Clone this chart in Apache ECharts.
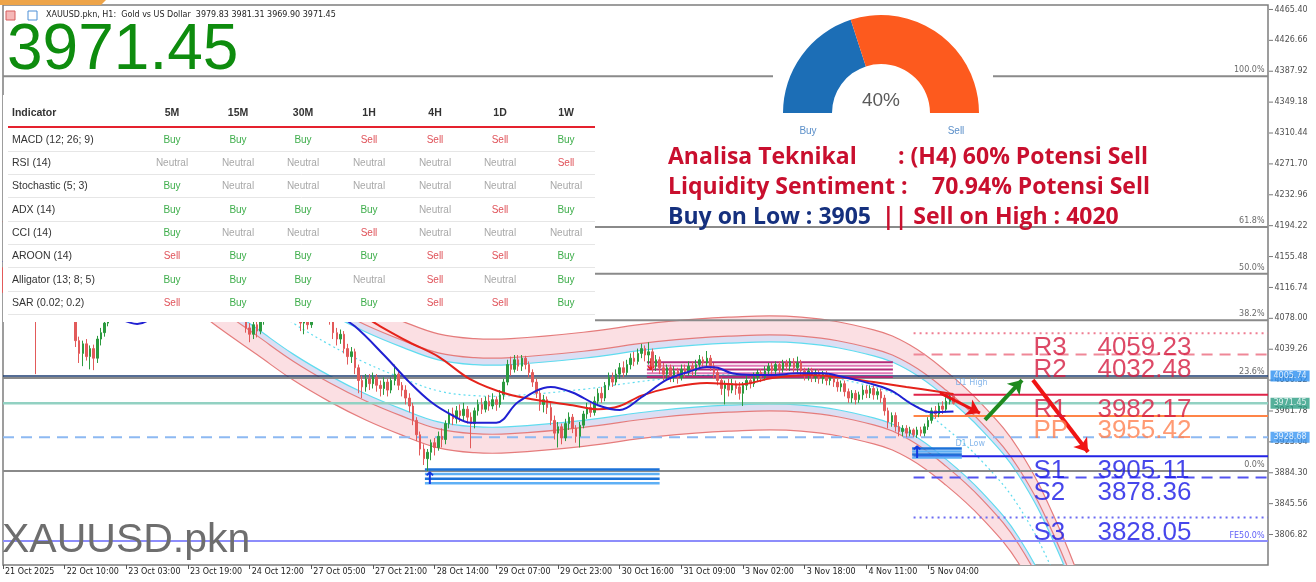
<!DOCTYPE html>
<html lang="id">
<head>
<meta charset="utf-8">
<title>XAUUSD.pkn H1</title>
<script src="https://cdn.jsdelivr.net/npm/echarts@6/dist/echarts.min.js"></script>
<style>
  html, body { margin: 0; padding: 0; background: #ffffff; }
  #chart { width: 1316px; height: 582px; }
</style>
</head>
<body>
<div id="chart"></div>
<script>
// ---------- values ----------
// bottom axis: one label every 17 H1 bars
const timeLabels = ['21 Oct 2025', '22 Oct 10:00', '23 Oct 03:00', '23 Oct 19:00', '24 Oct 12:00', '27 Oct 05:00',
  '27 Oct 21:00', '28 Oct 14:00', '29 Oct 07:00', '29 Oct 23:00', '30 Oct 16:00', '31 Oct 09:00',
  '3 Nov 02:00', '3 Nov 18:00', '4 Nov 11:00', '5 Nov 04:00'];
const labelStep = 17;
const priceTicks = [4465.40, 4426.66, 4387.92, 4349.18, 4310.44, 4271.70, 4232.96, 4194.22, 4155.48,
  4116.74, 4078.00, 4039.26, 4000.52, 3961.78, 3923.04, 3884.30, 3845.56, 3806.82];

// H1 candles: [open, close, low, high]
const candles = [
  [4128,4118,4110,4142],[4118,4125,4108,4132],[4125,4112,4104,4130],[4112,4120,4100,4126],[4120,4108,4098,4124],
  [4108,4115,4096,4121],[4115,4102,4094,4119],[4102,4110,4092,4114],[4110,4095,4088,4113],[4095,4088,4008,4101],
  [4088,4098,4082,4104],[4098,4108,4090,4112],[4108,4100,4093,4116],[4100,4112,4096,4118],[4112,4105,4098,4120],
  [4105,4098,4090,4110],[4098,4092,4085,4104],[4092,4100,4086,4106],[4100,4090,4083,4104],[4090,4082,4078,4095],
  [4080,4050,4042,4084],[4050,4034,4022,4055],[4034,4046,4018,4050],[4046,4030,4025,4052],[4030,4040,4014,4044],
  [4040,4028,4013,4045],[4028,4052,4022,4056],[4052,4060,4044,4066],[4060,4072,4055,4078],[4072,4085,4068,4090],
  [4085,4094,4080,4098],[4094,4088,4082,4100],[4088,4100,4084,4105],[4100,4110,4096,4115],[4110,4104,4098,4116],
  [4104,4115,4100,4120],[4115,4122,4110,4128],[4122,4116,4108,4126],[4116,4126,4112,4132],[4126,4134,4120,4140],
  [4134,4128,4120,4138],[4128,4138,4124,4144],[4138,4146,4132,4152],[4146,4140,4134,4150],[4140,4150,4136,4156],
  [4150,4158,4144,4164],[4158,4150,4142,4162],[4150,4142,4136,4155],[4142,4148,4136,4154],[4148,4140,4132,4152],
  [4140,4132,4126,4146],[4132,4138,4126,4143],[4138,4128,4120,4142],[4128,4120,4114,4134],[4120,4126,4114,4131],
  [4126,4134,4120,4140],[4134,4126,4118,4138],[4126,4118,4110,4130],[4118,4110,4102,4122],[4110,4116,4104,4121],
  [4116,4106,4098,4120],[4106,4098,4092,4112],[4098,4104,4090,4109],[4104,4096,4088,4108],[4096,4090,4084,4100],
  [4090,4084,4078,4096],[4084,4088,4078,4094],
  [4088,4066,4060,4092],[4066,4058,4048,4072],[4058,4070,4052,4076],[4070,4062,4054,4078],[4062,4076,4058,4082],
  [4076,4088,4070,4092],[4088,4096,4082,4100],
  [4096,4102,4090,4108],[4102,4110,4096,4116],[4110,4104,4098,4114],[4104,4112,4100,4118],[4112,4108,4102,4116],
  [4108,4112,4104,4118],
  [4096,4088,4080,4100],[4088,4080,4074,4092],[4080,4072,4062,4084],[4072,4078,4058,4082],[4078,4070,4064,4083],
  [4070,4080,4066,4086],[4080,4088,4076,4094],[4088,4084,4078,4095],[4084,4090,4080,4096],[4090,4082,4076,4094],
  [4082,4076,4070,4088],
  [4076,4060,4052,4080],[4060,4052,4044,4066],[4052,4058,4046,4064],[4058,4040,4034,4062],[4040,4030,4020,4046],
  [4030,4036,4022,4042],[4036,4016,4008,4040],
  [4016,4000,3984,4020],[4000,3992,3978,4006],[3992,4002,3986,4008],[4002,3996,3988,4008],[3996,4004,3990,4010],
  [4004,3994,3986,4008],[3994,3990,3980,4000],
  [3990,3998,3982,4004],[3998,3988,3980,4002],[3988,4000,3984,4004],[4000,4008,3994,4020],[4008,3994,3988,4012],
  [3994,3988,3980,3998],[3988,3978,3970,3994],[3978,3968,3960,3984],
  [3968,3950,3944,3972],[3950,3932,3924,3954],[3932,3914,3906,3936],[3914,3902,3894,3920],[3902,3910,3886.5,3914],
  [3910,3922,3900,3926],
  [3922,3916,3906,3928],[3916,3930,3912,3936],[3930,3926,3916,3940],[3926,3946,3920,3950],[3946,3958,3940,3964],
  [3958,3952,3944,3966],[3952,3962,3946,3968],[3962,3956,3948,3970],[3956,3964,3950,3972],[3964,3954,3946,3968],
  [3954,3946,3915,3960],
  [3946,3962,3940,3966],[3962,3970,3956,3976],[3970,3964,3958,3978],[3964,3974,3960,3980],[3974,3968,3962,3982],
  [3968,3976,3964,3984],[3976,3970,3962,3980],[3970,3982,3966,3988],
  [3982,3998,3976,4002],[3998,4020,3994,4026],[4020,4014,4006,4030],[4014,4026,4010,4032],[4026,4018,4012,4032],
  [4018,4028,4012,4032],[4028,4020,4014,4031],[4020,4010,4004,4024],
  [4010,3998,3992,4014],[3998,3984,3978,4002],[3984,3970,3962,3988],[3970,3976,3960,3982],[3976,3966,3958,3980],
  [3966,3950,3944,3972],[3950,3934,3926,3956],[3934,3942,3916,3948],[3942,3928,3920,3946],[3928,3946,3924,3952],
  [3946,3954,3938,3960],[3954,3940,3934,3958],[3940,3930,3922,3944],[3930,3944,3916,3948],
  [3944,3958,3940,3962],[3958,3966,3952,3972],[3966,3960,3954,3974],[3960,3974,3956,3980],[3974,3984,3968,3990],
  [3984,3978,3972,3992],
  [3978,3994,3974,3998],[3994,4004,3988,4010],[4004,3998,3992,4010],[3998,4008,3994,4014],[4008,4016,4002,4022],
  [4016,4010,4004,4024],[4010,4020,4006,4026],
  [4020,4028,4014,4034],[4028,4024,4018,4036],[4024,4034,4020,4040],[4034,4040,4028,4046],[4040,4032,4024,4044],
  [4032,4036,4020,4048],[4036,4018,4010,4040],[4018,4026,4012,4032],[4026,4016,4008,4030],
  [4016,4008,4000,4022],[4008,4016,4002,4020],[4016,4006,3998,4020],[4006,4012,3998,4018],[4012,4004,3996,4016],
  [4004,4014,4000,4020],[4014,4010,4004,4020],[4010,4018,4006,4024],[4018,4012,4006,4024],[4012,4020,4006,4026],
  [4020,4026,4014,4032],
  [4026,4022,4016,4030],[4022,4028,4016,4037],[4028,4018,4012,4032],[4018,4010,4002,4022],[4010,4000,3994,4014],
  [4000,3990,3982,4004],[3990,3996,3970,4000],[3996,3988,3980,4002],[3988,3996,3984,4002],[3996,3990,3982,4000],
  [3992,3984,3976,3998],[3984,3994,3968,3998],
  [3994,4000,3988,4006],[4000,3996,3990,4004],[3996,4004,3992,4010],[4004,4010,3998,4014],[4010,4004,3998,4014],
  [4004,4012,4000,4018],[4012,4018,4006,4022],[4018,4012,4006,4022],[4012,4020,4008,4024],[4020,4014,4008,4024],
  [4014,4022,4010,4026],[4022,4018,4012,4026],[4018,4024,4012,4028],[4024,4016,4010,4028],[4016,4022,4010,4030],
  [4022,4012,4006,4026],
  [4012,4006,4000,4016],[4006,4012,4000,4016],[4012,4004,3998,4016],[4004,4010,3998,4014],[4010,4002,3996,4014],
  [4002,4008,3996,4012],[4008,4000,3994,4012],[4000,4004,3994,4005.74],[4004,3998,3992,4005],[3998,3992,3986,4002],
  [3992,3996,3986,4000],
  [3996,3986,3980,4000],[3986,3978,3972,3990],[3978,3984,3972,3988],[3984,3976,3970,3988],[3976,3982,3972,3986],
  [3982,3988,3976,3994],[3988,3984,3978,3994],[3984,3990,3978,3994],[3990,3982,3976,3994],[3982,3986,3976,3990],
  [3986,3978,3972,3990],
  [3978,3962,3956,3982],[3962,3948,3940,3966],[3948,3956,3942,3960],[3956,3942,3936,3960],[3942,3936,3930,3948],
  [3936,3940,3930,3944],[3940,3934,3928.68,3944],[3934,3938,3930,3942],[3938,3931.84,3929,3940],[3932,3938,3928,3942],
  [3938,3934,3930,3942],[3934,3942,3930,3946],[3942,3950,3938,3954],
  [3950,3962,3946,3966],[3962,3958,3952,3968],[3958,3968,3954,3972],[3968,3964,3958,3974],[3964,3974,3960,3979],
  [3974,3979.83,3970,3982],[3979.83,3971.45,3969.90,3981.31]
];

// moving averages, sampled along the bars
const maFastBars = [0, 10, 20, 30, 37, 45, 55, 65, 75, 85, 92, 97, 105, 112, 118, 124, 129, 136, 142, 151, 157,
  164, 170, 176, 183, 189, 194, 197, 201, 207, 212, 219, 226, 231, 235, 240, 245, 251, 256, 262];
const maFast = [4150, 4125, 4100, 4082, 4071, 4092, 4120, 4112, 4096, 4092, 4082, 4068, 4032, 3998, 3973, 3956, 3947,
  3947, 3973, 3992, 3985, 3969, 3963, 3979, 4001, 4011, 4017, 4016, 4009, 4007, 4007, 4009, 4009, 4005, 4001, 3995,
  3987, 3969, 3960, 3961];
const maSlowBars = [0, 20, 40, 60, 80, 95, 104, 112, 120, 129, 139, 148, 157, 164, 170, 176, 185, 194, 203, 212,
  222, 231, 240, 249, 258, 262];
const maSlow = [4200, 4165, 4138, 4128, 4112, 4092, 4068, 4048, 4030, 4001, 3983, 3975, 3969, 3964, 3968, 3981, 3992,
  3997, 3995, 4003, 4007, 4004, 3998, 3992, 3986, 3983];

// regression channel: middle line and its band distances
const chanBars = [0, 20, 40, 50, 60, 70, 80, 90, 100, 110, 120, 130, 140, 160, 180, 200, 220, 240, 250, 260, 270,
  280, 290, 300, 310];
const chanMid = [4270, 4245, 4199, 4170, 4136, 4104, 4072, 4045, 4022, 4003, 3987, 3981, 3981, 3989, 4001, 4008,
  4008, 3992, 3973, 3940, 3898, 3842, 3755, 3640, 3500];
const chanDev = { outer: 71.5, inner: 47.7, cyan: 38.9 };

// horizontal levels
const fibNames = ['100.0%', '61.8%', '50.0%', '38.2%', '23.6%', '0.0%'];
const fibLevels = [4381.5, 4192.4, 4134.0, 4075.6, 4003.3, 3886.5];
const fe50 = 3798.7;
const d1High = 4005.74;
const d1Low = 3928.68;
const lastPrice = 3971.45;
const pivotNames = ['R3', 'R2', 'R1', 'PP', 'S1', 'S2', 'S3'];
const pivotValues = [4059.23, 4032.48, 3982.17, 3955.42, 3905.11, 3878.36, 3828.05];
const pivotStartBar = 251;

// zones: [from bar, to bar, upper price, lower price]
const buyZones = [[116.3, 181.0, 3888.5, 3871.0], [250.6, 264.3, 3914.8, 3903.5]];
const sellZone = [177.5, 245.3, 4023.0, 4004.5];

// drawn arrows: [from bar, from price, to bar, to price]
const arrows = [[258.3, 3984.3, 269.3, 3959.2], [270.7, 3950.5, 280.9, 4000.6], [283.9, 4000.6, 299.1, 3910.3]];

// signal table
const tableCols = ['5M', '15M', '30M', '1H', '4H', '1D', '1W'];
const tableRows = ['MACD (12; 26; 9)', 'RSI (14)', 'Stochastic (5; 3)', 'ADX (14)', 'CCI (14)', 'AROON (14)',
  'Alligator (13; 8; 5)', 'SAR (0.02; 0.2)'];
const tableSignals = [
  ['Buy', 'Buy', 'Buy', 'Sell', 'Sell', 'Sell', 'Buy'],
  ['Neutral', 'Neutral', 'Neutral', 'Neutral', 'Neutral', 'Neutral', 'Sell'],
  ['Buy', 'Neutral', 'Neutral', 'Neutral', 'Neutral', 'Neutral', 'Neutral'],
  ['Buy', 'Buy', 'Buy', 'Buy', 'Neutral', 'Sell', 'Buy'],
  ['Buy', 'Neutral', 'Neutral', 'Sell', 'Neutral', 'Neutral', 'Neutral'],
  ['Sell', 'Buy', 'Buy', 'Buy', 'Sell', 'Sell', 'Buy'],
  ['Buy', 'Buy', 'Buy', 'Neutral', 'Sell', 'Neutral', 'Buy'],
  ['Sell', 'Buy', 'Buy', 'Buy', 'Sell', 'Sell', 'Buy']
];

// sentiment gauge
const gaugeNames = ['Buy', 'Sell'];
const gaugeValues = [40, 60];

// ---------- chart ----------
const X_MAX = 348.7;
const Y_MIN = 3768.6, Y_MAX = 4471.0;
const SANS = '"Liberation Sans", Arial, sans-serif';
const TAHOMA = '"DejaVu Sans", sans-serif';

const chart = echarts.init(document.getElementById('chart'), null, {renderer: 'canvas'});

function hline(price, fromBar, color, width, type, z) {
  return {
    type: 'line', data: [[fromBar, price], [X_MAX, price]], symbol: 'none', silent: true,
    lineStyle: {color: color, width: width, type: type || 'solid'}, z: z || 3
  };
}

function textMarks(items, label, z) {
  return {
    type: 'scatter', data: items, symbolSize: 1, itemStyle: {color: 'rgba(0,0,0,0)'}, silent: true, clip: false,
    label: Object.assign({show: true, formatter: p => p.name}, label), z: z || 9
  };
}

function renderChannel(params, api) {
  const edge = off => chanBars.map((b, j) => api.coord([b, chanMid[j] + off]));
  const uo = edge(chanDev.outer), ui = edge(chanDev.inner), uc = edge(chanDev.cyan);
  const lc = edge(-chanDev.cyan), li = edge(-chanDev.inner), lo = edge(-chanDev.outer), mid = edge(0);
  const S = 0.4;
  const band = (a, b, fill) => ({type: 'polygon', shape: {points: a.concat(b.slice().reverse()), smooth: S},
    style: {fill: fill, stroke: 'none'}});
  const curve = (p, stroke, dash) => ({type: 'polyline', shape: {points: p, smooth: S},
    style: {stroke: stroke, fill: 'none', lineWidth: 1.2, lineDash: dash || null}});
  const red = '#e57c7c', cyan = '#5fdcef';
  return {
    type: 'group', children: [
      band(uo, ui, '#fbdfe3'), band(ui, uc, '#dcdef3'), band(lc, li, '#dcdef3'), band(li, lo, '#fbdfe3'),
      curve(uo, red), curve(ui, red), curve(uc, cyan), curve(mid, cyan, [2, 3]), curve(lc, cyan), curve(li, red), curve(lo, red)
    ]
  };
}

function renderZones(params, api) {
  const kids = [];
  buyZones.forEach(zn => {
    const a = api.coord([zn[0], zn[2]]), b = api.coord([zn[1], zn[3]]);
    for (let k = 0; k < 4; k++) {
      const y = a[1] + (b[1] - a[1]) * k / 3;
      kids.push({type: 'line', shape: {x1: a[0], y1: y, x2: b[0], y2: y},
        style: {stroke: k % 2 ? '#5fb0f5' : '#1c72d8', lineWidth: 2.5}});
    }
    kids.push({type: 'text', x: a[0] + 5, y: b[1] + 5,
      style: {text: '↑', font: 'bold 17px "DejaVu Sans"', fill: '#1438e0', align: 'center', verticalAlign: 'bottom',
        textAlign: 'center', textVerticalAlign: 'bottom'}});
  });
  const a = api.coord([sellZone[0], sellZone[2]]), b = api.coord([sellZone[1], sellZone[3]]);
  for (let k = 0; k < 5; k++) {
    const y = a[1] + (b[1] - a[1]) * k / 4;
    kids.push({type: 'line', shape: {x1: a[0], y1: y, x2: b[0], y2: y},
      style: {stroke: k % 2 ? '#e27ab8' : '#b32a78', lineWidth: 2}});
  }
  kids.push({type: 'text', x: a[0] + 4, y: a[1] - 4,
    style: {text: '↓', font: 'bold 16px "DejaVu Sans"', fill: '#e81c1c', align: 'center', verticalAlign: 'top',
      textAlign: 'center', textVerticalAlign: 'top'}});
  return {type: 'group', children: kids};
}

const series = [];

// channel behind everything
series.push({type: 'custom', data: [[0, 4000]], encode: {x: 0, y: 1}, renderItem: renderChannel, clip: true, silent: true, z: 1});

// full-width levels
fibLevels.forEach(v => series.push(hline(v, 0, '#8a8a8a', 2, 'solid', 2)));
series.push(hline(fe50, 0, '#8d8dfb', 2, 'solid', 2));
series.push(hline(d1High, 0, '#1d3c72', 1.5, 'solid', 3));
series.push(hline(lastPrice, 0, '#92d1c2', 2.5, 'solid', 3));
series.push(hline(d1Low, 0, '#8db9f2', 2, [11, 7], 3));

// daily pivots from today's first bar
const pivotStyle = {
  R3: ['#ef7d92', [2, 4]], R2: ['#ef8797', [11, 7]], R1: ['#df2349', 'solid'], PP: ['#ff8447', 'solid'],
  S1: ['#2323e6', 'solid'], S2: ['#5353f0', [11, 7]], S3: ['#6c6cf2', [2, 4]]
};
pivotNames.forEach((n, k) => series.push(hline(pivotValues[k], pivotStartBar, pivotStyle[n][0], 2, pivotStyle[n][1], 3)));

// zones
series.push({type: 'custom', data: [[0, 4000]], encode: {x: 0, y: 1}, renderItem: renderZones, clip: true, silent: true, z: 4});

// candles
series.push({
  type: 'candlestick', data: candles.map((c, i) => [i, c[0], c[1], c[2], c[3]]), encode: {x: 0, y: [1, 2, 3, 4]},
  barWidth: 2, silent: true, z: 5,
  itemStyle: {color: '#2b9a3e', color0: '#e25a5a', borderColor: '#2b9a3e', borderColor0: '#e25a5a', borderWidth: 1}
});

// moving averages
series.push({type: 'line', data: maSlowBars.map((b, j) => [b, maSlow[j]]), smooth: 0.35, symbol: 'none', silent: true,
  lineStyle: {color: '#e5231b', width: 2}, z: 6});
series.push({type: 'line', data: maFastBars.map((b, j) => [b, maFast[j]]), smooth: 0.35, symbol: 'none', silent: true,
  lineStyle: {color: '#2020d2', width: 2}, z: 6});

// arrows
const arrowColors = ['#e81313', '#1f8a1f', '#f01414'];
const arrowWidths = [3, 4, 4];
series.push({
  type: 'lines', coordinateSystem: 'cartesian2d', silent: true, z: 8,
  symbol: ['none', 'arrow'], symbolSize: 13,
  data: arrows.map((a, k) => ({coords: [[a[0], a[1]], [a[2], a[3]]],
    lineStyle: {color: arrowColors[k], width: arrowWidths[k], opacity: 1, curveness: 0}}))
});

// labels on the chart
series.push(textMarks(fibNames.map((n, k) => ({name: n, value: [X_MAX, fibLevels[k]]})),
  {position: 'left', distance: 3, offset: [0, -6], fontSize: 8, color: '#444', fontFamily: TAHOMA}));
series.push(textMarks([{name: 'FE50.0%', value: [X_MAX, fe50]}],
  {position: 'left', distance: 3, offset: [0, -5], fontSize: 8, color: '#3434f5', fontFamily: TAHOMA}));
series.push(textMarks([{name: 'D1 High', value: [262.4, d1High]}, {name: 'D1 Low', value: [262.4, d1Low]}],
  {position: 'right', distance: 0, offset: [0, 7], fontSize: 8, color: '#6aa6e6', fontFamily: TAHOMA}));
const pivotLabelColor = n => n[0] === 'R' ? '#d51c40' : (n === 'PP' ? '#ff8150' : '#1818e6');
series.push(textMarks(pivotNames.map((n, k) => ({
  name: n, value: [283.9, pivotValues[k]],
  label: {color: pivotLabelColor(n), formatter: '{n|' + n + '}' + pivotValues[k].toFixed(2)}
})), {
  position: 'right', distance: 0, offset: [0, 15], fontSize: 26, fontFamily: SANS,
  rich: {n: {width: 64, fontSize: 26, fontFamily: SANS}}
}, 10));

// right price scale: ticks and labels from priceTicks, then the coloured tags
series.push({
  type: 'scatter', data: priceTicks.map(v => [X_MAX, v]), symbol: 'rect', symbolSize: [4, 1], symbolOffset: [3, 0],
  itemStyle: {color: '#555'}, silent: true, clip: false, z: 9
});
series.push(textMarks(priceTicks.map(v => ({name: v.toFixed(2), value: [X_MAX, v]})),
  {position: 'right', distance: 6, fontSize: 8, color: '#222', fontFamily: TAHOMA}, 9));
const tagColors = ['#2a8ff0', '#2b9c82', '#3a96f2'];
series.push(textMarks([d1High, lastPrice, d1Low].map((v, k) => ({
  name: v.toFixed(2), value: [X_MAX, v], label: {backgroundColor: tagColors[k]}
})), {position: 'right', distance: 2, fontSize: 8, color: '#fff', padding: [2, 3, 1, 3], fontFamily: TAHOMA}, 12));

// sentiment gauge (upper half of a ring)
series.push({
  type: 'pie', center: [881, 113], radius: [49, 98], startAngle: 180, clockwise: true, silent: true, z: 60,
  label: {show: false}, labelLine: {show: false}, emphasis: {disabled: true},
  data: [
    {name: gaugeNames[0], value: gaugeValues[0], itemStyle: {color: '#1c6eb6'}},
    {name: gaugeNames[1], value: gaugeValues[1], itemStyle: {color: '#fd5a1e'}},
    {name: '', value: gaugeValues[0] + gaugeValues[1], itemStyle: {color: 'rgba(0,0,0,0)'}}
  ]
});

// ---------- overlays ----------
const g = [];
const txt = (x, y, text, font, fill, align) => ({
  type: 'text', x: x, y: y, z: 55,
  style: {text: text, font: font, fill: fill, align: align || 'left', verticalAlign: 'middle',
    textAlign: align || 'left', textVerticalAlign: 'middle'}
});
g.push({type: 'polygon', shape: {points: [[0, 0], [106, 0], [101, 5], [0, 5]]}, style: {fill: '#eda449'}, z: 55});
g.push({type: 'rect', shape: {x: 6, y: 11, width: 9, height: 9}, style: {fill: '#f5b8b8', stroke: '#d65c5c', lineWidth: 1}, z: 55});
g.push({type: 'rect', shape: {x: 28, y: 11, width: 9, height: 9}, style: {fill: '#fff', stroke: '#4d8fd6', lineWidth: 1}, z: 55});
g.push(txt(46, 15, 'XAUUSD.pkn, H1:  Gold vs US Dollar  3979.83 3981.31 3969.90 3971.45', '8px ' + TAHOMA, '#222'));
g.push(txt(7, 51, '3971.45', '64px ' + SANS, '#0e8c0e'));
g.push(txt(2, 541, 'XAUUSD.pkn', '41px ' + SANS, '#6e6e6e'));

// signal table
g.push({type: 'rect', shape: {x: 3, y: 95, width: 592, height: 227}, style: {fill: '#fff'}, z: 50});
const colX = [172, 238, 303, 369, 435, 500, 566];
const rowY = [140, 163, 186, 210, 233, 256, 280, 303];
g.push(txt(12, 113, 'Indicator', 'bold 10.5px ' + SANS, '#333'));
tableCols.forEach((c, k) => g.push(txt(colX[k], 113, c, 'bold 10.5px ' + SANS, '#333', 'center')));
g.push({type: 'line', shape: {x1: 8, y1: 127, x2: 595, y2: 127}, style: {stroke: '#e5212e', lineWidth: 2}, z: 55});
const signalColor = {Buy: '#3fae4c', Sell: '#e0535a', Neutral: '#a8a8a8'};
tableRows.forEach((r, j) => {
  g.push(txt(12, rowY[j], r, '10.5px ' + SANS, '#333'));
  tableSignals[j].forEach((s, k) => g.push(txt(colX[k], rowY[j], s, '10px ' + SANS, signalColor[s], 'center')));
  g.push({type: 'line', shape: {x1: 8, y1: rowY[j] + 11.5, x2: 595, y2: rowY[j] + 11.5},
    style: {stroke: '#e6e6e6', lineWidth: 1}, z: 55});
});

// gauge panel
g.push({type: 'rect', shape: {x: 773, y: 6, width: 220, height: 134}, style: {fill: '#fff'}, z: 50});
g.push(txt(881, 101, gaugeValues[0] + '%', '19px ' + SANS, '#5a5a5a', 'center'));
g.push(txt(808, 131, gaugeNames[0], '10px ' + SANS, '#5b8fc9', 'center'));
g.push(txt(956, 131, gaugeNames[1], '10px ' + SANS, '#5b8fc9', 'center'));

// analysis text panel
g.push({type: 'rect', shape: {x: 662, y: 140, width: 498, height: 84}, style: {fill: '#fff'}, z: 50});
const BOLD = 'bold 23px "Open Sans", sans-serif';
const crimson = '#c90f2e', navy = '#15307e';
g.push(txt(668, 157, 'Analisa Teknikal', BOLD, crimson));
g.push(txt(898, 157, ': (H4) 60% Potensi Sell', BOLD, crimson));
g.push(txt(668, 187, 'Liquidity Sentiment :', BOLD, crimson));
g.push(txt(932, 187, '70.94% Potensi Sell', BOLD, crimson));
g.push(txt(668, 217, 'Buy on Low : 3905', BOLD, navy));
g.push(txt(882, 217, '|| Sell on High : 4020', BOLD, crimson));

const option = {
  animation: false,
  backgroundColor: '#ffffff',
  grid: {left: 3, right: 48, top: 5, bottom: 17, show: true, borderColor: '#7d7d7d', borderWidth: 1.5, backgroundColor: '#fff'},
  xAxis: {
    type: 'value', min: 0, max: X_MAX,
    axisLine: {show: false, onZero: false}, splitLine: {show: false},
    axisTick: {show: true, length: 4, customValues: timeLabels.map((_, k) => k * labelStep), lineStyle: {color: '#555'}},
    axisLabel: {
      customValues: timeLabels.map((_, k) => k * labelStep),
      formatter: v => timeLabels[Math.round(v / labelStep)] || '',
      align: 'left', padding: [0, 0, 0, 2], margin: 3, fontSize: 8, color: '#222', fontFamily: TAHOMA
    }
  },
  yAxis: {type: 'value', position: 'right', min: Y_MIN, max: Y_MAX, show: false},
  graphic: {elements: g},
  series: series
};
chart.setOption(option);
</script>
</body>
</html>
